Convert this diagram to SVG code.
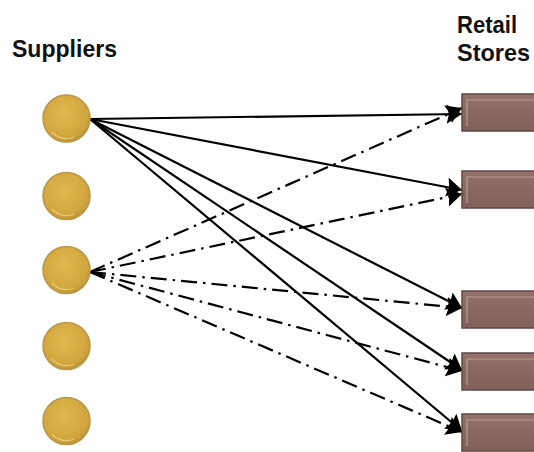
<svg xmlns="http://www.w3.org/2000/svg" width="534" height="452" viewBox="0 0 534 452">
  <style>
    .title { font-family: "Liberation Sans", Arial, sans-serif; font-size: 24px; font-weight: bold; fill: #111; }
    .supplier { fill: url(#gold); stroke: #b89848; stroke-width: 1.5; }
    .supplier-shine { fill: none; stroke: #f3d98a; stroke-width: 1.2; opacity: 0.7; }
    .store { fill: url(#mauve); stroke: #5e4a46; stroke-width: 1.5; }
    .store-shine { fill: none; stroke: #c9a79f; stroke-width: 1.2; opacity: 0.8; }
    .solid { stroke: #000; stroke-width: 2.2; fill: none; marker-end: url(#arrow); }
    .dashdot { stroke: #000; stroke-width: 2.2; fill: none; stroke-dasharray: 16 6 2.5 6; marker-end: url(#arrow); }
  </style>
  <defs>
    <radialGradient id="gold" cx="45%" cy="40%" r="60%">
      <stop offset="0" stop-color="#e0b94f"/>
      <stop offset="0.8" stop-color="#d2a63e"/>
      <stop offset="1" stop-color="#c0963a"/>
    </radialGradient>
    <linearGradient id="mauve" x1="0" y1="0" x2="0" y2="1">
      <stop offset="0" stop-color="#93726b"/>
      <stop offset="0.5" stop-color="#8a6862"/>
      <stop offset="1" stop-color="#80605a"/>
    </linearGradient>
    <marker id="arrow" viewBox="0 0 8 10" refX="8" refY="5" markerWidth="7" markerHeight="9" markerUnits="strokeWidth" orient="auto">
      <path d="M0,0 L8,5 L0,10 L1.2,5 Z" fill="#000"/>
    </marker>
  </defs>

  <text class="title" x="12" y="57" textLength="105" lengthAdjust="spacingAndGlyphs">Suppliers</text>
  <text class="title" x="457" y="33" textLength="60" lengthAdjust="spacingAndGlyphs">Retail</text>
  <text class="title" x="457" y="61" textLength="73" lengthAdjust="spacingAndGlyphs">Stores</text>

  <g id="connectors">
    <line class="solid" x1="90" y1="119" x2="462" y2="114"/>
    <line class="solid" x1="90" y1="119" x2="462" y2="190"/>
    <line class="solid" x1="90" y1="119" x2="462" y2="308"/>
    <line class="solid" x1="90" y1="119" x2="462" y2="370"/>
    <line class="solid" x1="90" y1="119" x2="462" y2="431"/>
    <line class="dashdot" x1="90" y1="272" x2="462" y2="108"/>
    <line class="dashdot" x1="90" y1="272" x2="462" y2="194"/>
    <line class="dashdot" x1="90" y1="272" x2="462" y2="308"/>
    <line class="dashdot" x1="90" y1="272" x2="462" y2="371"/>
    <line class="dashdot" x1="90" y1="272" x2="462" y2="432"/>
  </g>

  <g id="supplier-1"><circle class="supplier" cx="66.5" cy="118.5" r="23.5"/><path class="supplier-shine" d="M52,132 A19,19 0 0 0 74,137"/></g>
  <g id="supplier-2"><circle class="supplier" cx="66.5" cy="196" r="23.5"/><path class="supplier-shine" d="M52,209 A19,19 0 0 0 74,214"/></g>
  <g id="supplier-3"><circle class="supplier" cx="66.5" cy="270" r="23.5"/><path class="supplier-shine" d="M52,283 A19,19 0 0 0 74,288"/></g>
  <g id="supplier-4"><circle class="supplier" cx="66.5" cy="346" r="23.5"/><path class="supplier-shine" d="M52,359 A19,19 0 0 0 74,364"/></g>
  <g id="supplier-5"><circle class="supplier" cx="66.5" cy="421" r="23.5"/><path class="supplier-shine" d="M52,434 A19,19 0 0 0 74,439"/></g>

  <g id="store-1"><rect class="store" x="462" y="94" width="80" height="37"/><path class="store-shine" d="M467,126 V100 H540"/></g>
  <g id="store-2"><rect class="store" x="462" y="171" width="80" height="37"/><path class="store-shine" d="M467,203 V177 H540"/></g>
  <g id="store-3"><rect class="store" x="462" y="291" width="80" height="37"/><path class="store-shine" d="M467,323 V297 H540"/></g>
  <g id="store-4"><rect class="store" x="462" y="353" width="80" height="37"/><path class="store-shine" d="M467,385 V359 H540"/></g>
  <g id="store-5"><rect class="store" x="462" y="414" width="80" height="37"/><path class="store-shine" d="M467,446 V420 H540"/></g>
</svg>
